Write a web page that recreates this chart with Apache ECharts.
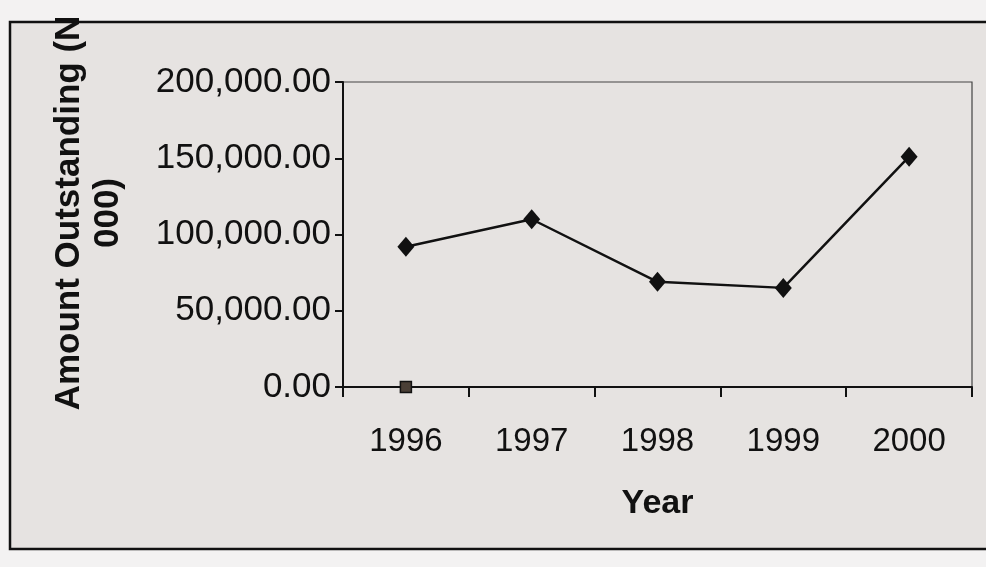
<!DOCTYPE html>
<html>
<head>
<meta charset="utf-8">
<title>Amount Outstanding by Year</title>
<script src="https://cdn.jsdelivr.net/npm/echarts@6/dist/echarts.min.js"></script>
<style>
  html, body { margin: 0; padding: 0; background: #f3f2f2; }
  #chart { width: 986px; height: 567px; }
</style>
</head>
<body>
<div id="chart"></div>
<script>
// Years on the category axis
const years = ['1996', '1997', '1998', '1999', '2000'];
// Amount outstanding (N '000) per year
const amountOutstanding = [92000, 110000, 69000, 65000, 151000];
// Second series: a single point at zero in 1996
const secondSeries = [0, null, null, null, null];
// Value-axis range and step
const yMin = 0;
const yMax = 200000;
const yStep = 50000;

const chart = echarts.init(document.getElementById('chart'), null, { renderer: 'canvas' });

const fmt = v => v.toLocaleString('en-US', { minimumFractionDigits: 2, maximumFractionDigits: 2 });

chart.setOption({
  animation: false,
  backgroundColor: 'transparent',
  graphic: [
    {
      type: 'rect',
      z: -10,
      shape: { x: 10, y: 22, width: 1000, height: 527 },
      style: { fill: '#e6e3e1', stroke: '#111', lineWidth: 2.5 }
    },
    {
      type: 'text',
      x: 89,
      y: 213,
      rotation: Math.PI / 2,
      style: {
        text: 'Amount Outstanding (N\n000)',
        font: 'bold 35px "Liberation Sans", Arial, sans-serif',
        fill: '#111',
        align: 'center',
        verticalAlign: 'middle',
        lineHeight: 39
      }
    }
  ],
  grid: {
    left: 343,
    right: 14,
    top: 82,
    bottom: 180,
    show: true,
    borderColor: '#444',
    borderWidth: 1.2,
    backgroundColor: 'transparent'
  },
  xAxis: {
    type: 'category',
    data: years,
    boundaryGap: true,
    name: 'Year',
    nameLocation: 'middle',
    nameGap: 100,
    nameTextStyle: {
      fontFamily: '"Liberation Sans", Arial, sans-serif',
      fontWeight: 'bold',
      fontSize: 34,
      color: '#111'
    },
    axisLine: { show: true, lineStyle: { color: '#111', width: 2 } },
    axisTick: { show: true, inside: false, length: 10, alignWithLabel: false, lineStyle: { color: '#111', width: 2 } },
    axisLabel: {
      margin: 38,
      fontFamily: '"Liberation Sans", Arial, sans-serif',
      fontSize: 33,
      color: '#111'
    },
    splitLine: { show: false }
  },
  yAxis: {
    type: 'value',
    min: yMin,
    max: yMax,
    interval: yStep,
    axisLine: { show: true, lineStyle: { color: '#111', width: 2 } },
    axisTick: { show: true, inside: false, length: 8, lineStyle: { color: '#111', width: 2 } },
    axisLabel: {
      margin: 12,
      formatter: fmt,
      fontFamily: '"Liberation Sans", Arial, sans-serif',
      fontSize: 35,
      color: '#111'
    },
    splitLine: { show: false }
  },
  series: [
    {
      name: 'Amount Outstanding',
      type: 'line',
      data: amountOutstanding,
      symbol: 'diamond',
      symbolSize: [17, 20],
      lineStyle: { color: '#111', width: 2.5 },
      itemStyle: { color: '#111' }
    },
    {
      name: 'Series 2',
      type: 'line',
      data: secondSeries,
      symbol: 'rect',
      symbolSize: 11,
      lineStyle: { width: 0 },
      itemStyle: { color: '#4a3f36', borderColor: '#111', borderWidth: 1.5 }
    }
  ]
});
</script>
</body>
</html>
